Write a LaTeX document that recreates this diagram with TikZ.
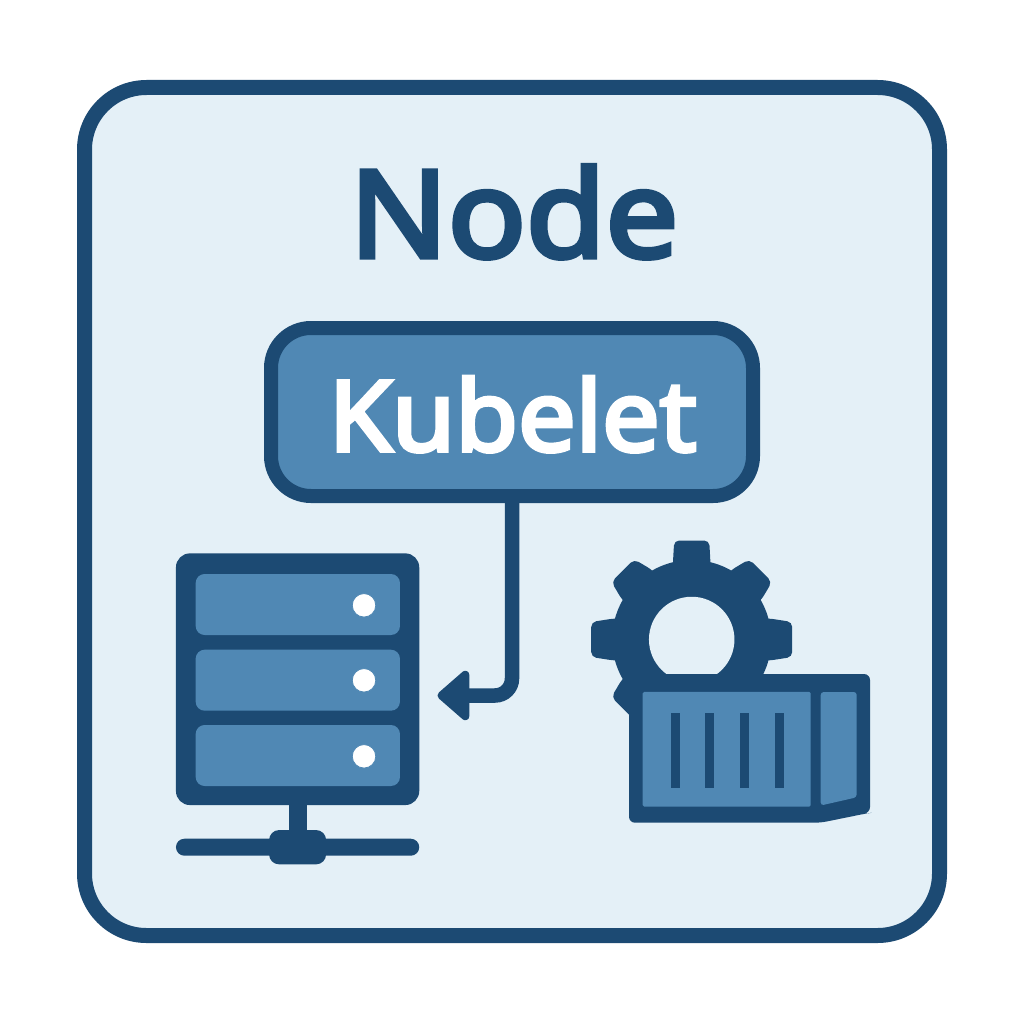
\documentclass[tikz,border=0pt]{standalone}
\usepackage{fontspec}
\setmainfont{Noto Sans}[AutoFakeBold=4]
\usetikzlibrary{arrows.meta}
\definecolor{dk}{HTML}{1C4A73}
\definecolor{md}{HTML}{5088B4}
\definecolor{bgl}{HTML}{E4F0F7}
\tikzset{
  box/.style={draw=none,inner sep=0pt,outer sep=0pt,rectangle},
  panel/.style={box,fill=md,rounded corners=9pt,minimum width=204.3pt,minimum height=61pt},
  led/.style={circle,fill=white,draw=md,line width=0.8pt,inner sep=0pt,outer sep=0pt,minimum size=23.5pt},
  slat/.style={box,fill=dk,minimum width=9.3pt,minimum height=75pt},
  tooth/.style={fill=dk,rounded corners=5pt},
}
\begin{document}
\begin{tikzpicture}[x=1pt,y=-1pt]
\useasboundingbox (0,0) rectangle (1024,1024);
% frame
\node[box,draw=dk,fill=bgl,line width=15pt,rounded corners=62pt,minimum width=855pt,minimum height=848pt] (frame) at (512,511.5) {};
% title
\node[box,anchor=base,text=dk,font=\fontsize{121}{121}\selectfont\bfseries] (title) at (514,257.3) {\scalebox{1.068}[1]{Node}};
% gear
\fill[dk] (691.7,639.5) circle (79.5);
\foreach \a in {0,180}{
  \fill[tooth,shift={(691.7,639.5)},rotate=\a] (40,-21) -- (78,-21) -- (100.5,-17.5) -- (100.5,17.5) -- (78,21) -- (40,21) -- cycle;
}
\foreach \a in {90,270}{
  \fill[tooth,shift={(691.7,639.5)},rotate=\a] (40,-18.7) -- (78,-18.7) -- (99,-17.5) -- (99,17.5) -- (78,18.7) -- (40,18.7) -- cycle;
}
\foreach \a in {45,135,225,315}{
  \fill[tooth,shift={(691.7,639.5)},rotate=\a] (40,-21) -- (78,-21) -- (97.5,-16) -- (97.5,16) -- (78,21) -- (40,21) -- cycle;
}
\node[circle,fill=bgl,inner sep=0pt,outer sep=0pt,minimum size=85.5pt] (hole) at (691.7,639.5) {};
% container
\fill[dk,rounded corners=6pt] (629,674) -- (870,674) -- (870,813) -- (866,813.5) -- (820.7,822.7) -- (629,822.7) -- cycle;
\node[box,fill=md,rounded corners=1.5pt,minimum width=168pt,minimum height=114.7pt] (door) at (726.7,749.3) {};
\fill[md,rounded corners=3pt] (820.7,692) -- (856.7,692) -- (856.7,797.3) -- (820.7,805.5) -- cycle;
\node[slat] (s1) at (675.6,750.2) {};
\node[slat] (s2) at (709.6,750.2) {};
\node[slat] (s3) at (744.6,750.2) {};
\node[slat] (s4) at (779.6,750.2) {};
% server
\node[box,fill=dk,minimum width=243.3pt,minimum height=251.7pt,rounded corners=14pt] (server) at (297.6,679.2) {};
\node[panel] (p1) at (297.8,604.5) {};
\node[panel] (p2) at (297.8,680.2) {};
\node[panel] (p3) at (297.8,755.5) {};
\node[led] (l1) at (364,605.3) {};
\node[led] (l2) at (364,680.3) {};
\node[led] (l3) at (364,756.3) {};
\node[box,fill=dk,rounded corners=8.5pt,minimum width=243.3pt,minimum height=17pt] (bar) at (297.6,847.2) {};
\node[box,fill=dk,rounded corners=10pt,minimum width=57pt,minimum height=34.3pt] (hub) at (297.6,847.2) {};
\draw[dk,line width=18pt] (server.south) -- (hub.north);
% kubelet
\node[box,draw=dk,fill=md,line width=14pt,rounded corners=40pt,minimum width=482pt,minimum height=168pt] (kubelet) at (512,412) {};
\node[box,anchor=base,text=white,font=\fontsize{98}{98}\selectfont\bfseries] (kubtext) at (512.7,451) {\scalebox{1.043}[1]{Kubelet}};
% connector
\coordinate (tip) at (437.5,695.5);
\coordinate (bend) at (kubelet.south |- tip);
\draw[dk,line width=14.5pt,rounded corners=17pt,-{Triangle[length=34pt,width=57pt,line width=8pt,round,fill=dk]}] (kubelet.south) -- (bend) -- (tip);
\end{tikzpicture}
\end{document}
